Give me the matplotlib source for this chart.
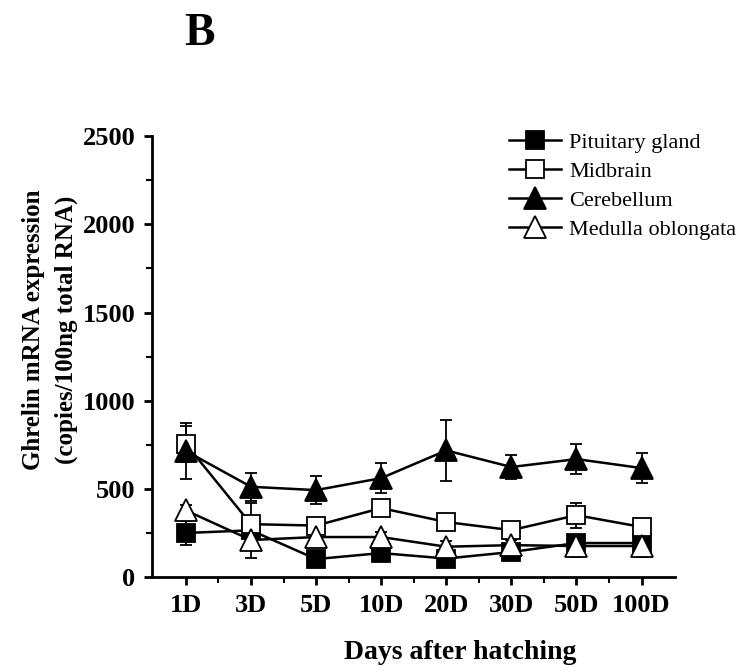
import matplotlib
matplotlib.use("Agg")
import matplotlib.pyplot as plt
from matplotlib.lines import Line2D
import numpy as np

days = ["1D", "3D", "5D", "10D", "20D", "30D", "50D", "100D"]
pituitary = [250, 265, 102, 136, 105, 142, 193, 193]
pituitary_err = [70, 30, 25, 25, 20, 25, 30, 30]
midbrain = [755, 300, 292, 391, 312, 266, 351, 284]
midbrain_err = [100, 120, 40, 40, 40, 40, 70, 40]
cerebellum = [715, 512, 493, 561, 718, 624, 669, 618]
cerebellum_err = [160, 80, 80, 85, 175, 70, 85, 85]
medulla = [378, 210, 227, 227, 172, 181, 176, 176]
medulla_err = [30, 100, 30, 30, 30, 30, 60, 60]

plt.rcParams['font.family'] = ['Liberation Serif', 'DejaVu Serif']
plt.rcParams['font.weight'] = 'bold'

fig = plt.figure(figsize=(7.51, 6.71), dpi=100)
ax = fig.add_axes([0.2024, 0.140, 0.697, 0.657])
x = np.arange(1, len(days) + 1)

series = [
    ("Pituitary gland", pituitary, pituitary_err, 's', 'black', 13),
    ("Midbrain", midbrain, midbrain_err, 's', 'white', 13),
    ("Cerebellum", cerebellum, cerebellum_err, '^', 'black', 16),
    ("Medulla oblongata", medulla, medulla_err, '^', 'white', 16),
]
handles = []
for name, vals, err, m, fc, ms in series:
    ax.errorbar(x, vals, yerr=err, color='black', lw=1.8, marker=m, ms=ms,
                mfc=fc, mec='black', mew=1.3, capsize=4, elinewidth=1.3,
                capthick=1.3)
    handles.append(Line2D([], [], color='black', lw=1.8, marker=m, ms=ms,
                          mfc=fc, mec='black', mew=1.3, label=name))

ax.set_xlim(0.48, 8.52)
ax.set_ylim(0, 2500)
ax.set_xticks(x)
ax.set_xticklabels(days)
ax.set_xticks(x[:-1] + 0.5, minor=True)
ax.set_yticks([0, 500, 1000, 1500, 2000, 2500])
ax.set_yticks([250, 750, 1250, 1750, 2250], minor=True)
for s in ['top', 'right']:
    ax.spines[s].set_visible(False)
for s in ['left', 'bottom']:
    ax.spines[s].set_linewidth(2)
ax.tick_params(axis='both', which='major', direction='out', length=6, width=2, labelsize=19, pad=6)
ax.tick_params(axis='both', which='minor', direction='out', length=4, width=1.5)
for lab in ax.get_xticklabels() + ax.get_yticklabels():
    lab.set_fontweight('bold')

ax.set_ylabel("Ghrelin mRNA expression\n(copies/100ng total RNA)", fontsize=18,
              fontweight='bold', linespacing=1.5)
ax.yaxis.set_label_coords(-0.142, 0.56)
ax.set_xlabel("Days after hatching", fontsize=20, fontweight='bold')
ax.xaxis.set_label_coords(0.589, -0.143)

leg = ax.legend(handles=handles, loc='upper right', bbox_to_anchor=(1.155, 1.055), frameon=False,
                prop={'family': 'Liberation Serif', 'weight': 'normal', 'size': 16},
                handlelength=2.3, handletextpad=0.4, labelspacing=0.38)

fig.text(0.266, 1 - 45 / 671, "B", fontsize=33, fontweight='bold', ha='center', va='baseline')

fig.savefig("out.png", dpi=100)
